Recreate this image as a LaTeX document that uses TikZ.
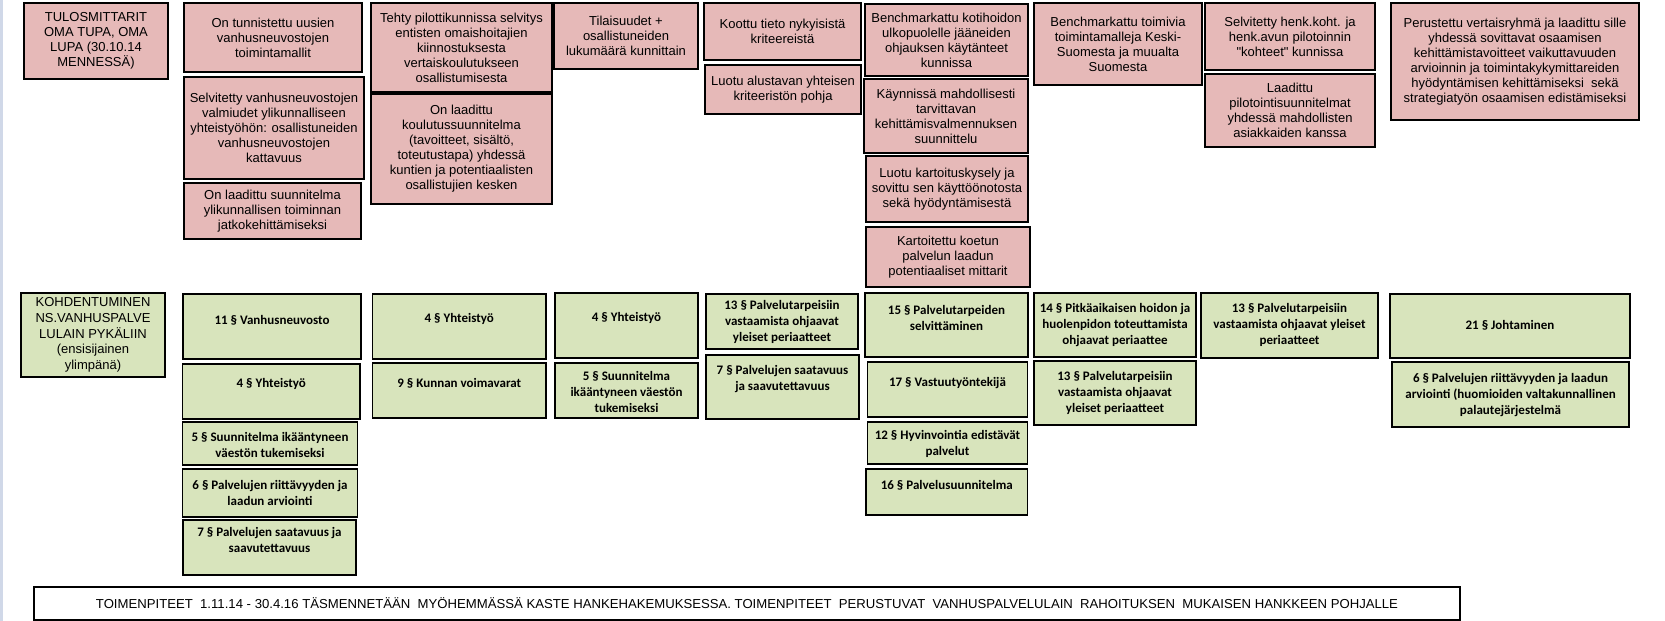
\documentclass[tikz,border=0pt]{standalone}
\usepackage{fontspec}
\setmainfont{Liberation Sans}[Ligatures=TeXOff]
\newfontfamily\calibri{Carlito}
\usepackage{graphicx}
\definecolor{boxpink}{RGB}{230,185,184}
\definecolor{boxgreen}{RGB}{216,228,188}
\definecolor{edgeblue}{RGB}{208,216,232}

\begin{document}
\begin{tikzpicture}[x=1pt,y=-1pt,
  pbox/.style={draw=black,line width=1.1pt,fill=boxpink,inner sep=0pt,outer sep=0pt,align=center,font=\fontsize{13}{15}\selectfont},
  gbox/.style={draw=black,line width=1.1pt,fill=boxgreen,inner sep=0pt,outer sep=0pt},
  gtext/.style={align=center,inner sep=0pt,font=\calibri\bfseries\fontsize{13}{16}\selectfont}]
  \useasboundingbox (0,0) rectangle (1665,621);
  \fill[edgeblue] (0,0) rectangle (2.5,621);
  \node[pbox,minimum width=144pt,minimum height=76pt] (tulos) at (96,41) {TULOSMITTARIT\\OMA TUPA, OMA\\LUPA (30.10.14\\MENNESSÄ)};
  \node[pbox,minimum width=178pt,minimum height=69pt] (tunn) at (273,37.5) {On tunnistettu uusien\\vanhusneuvostojen\\toimintamallit};
  \node[pbox,minimum width=180pt,minimum height=102pt] (selv) at (274,128) {Selvitetty vanhusneuvostojen\\valmiudet ylikunnalliseen\\yhteistyöhön: osallistuneiden\\vanhusneuvostojen\\kattavuus};
  \node[pbox,minimum width=177pt,minimum height=56pt] (suun) at (272.5,211) {On laadittu suunnitelma\\ylikunnallisen toiminnan\\jatkokehittämiseksi};
  \node[pbox,minimum width=181pt,minimum height=89pt] (tehty) at (461.5,47.5) {Tehty pilottikunnissa selvitys\\entisten omaishoitajien\\kiinnostuksesta\\vertaiskoulutukseen\\osallistumisesta};
  \node[pbox,minimum width=181pt,minimum height=110pt] (koul) at (461.5,149) {On laadittu\\koulutussuunnitelma\\(tavoitteet, sisältö,\\toteutustapa) yhdessä\\kuntien ja potentiaalisten\\osallistujien kesken};
  \node[pbox,minimum width=144pt,minimum height=66pt] (tilai) at (626,36) {Tilaisuudet +\\osallistuneiden\\lukumäärä kunnittain};
  \node[pbox,minimum width=157pt,minimum height=57pt] (koottu) at (782.5,31.5) {Koottu tieto nykyisistä\\kriteereistä};
  \node[pbox,minimum width=156pt,minimum height=49pt] (alust) at (783,89.5) {Luotu alustavan yhteisen\\kriteeristön pohja};
  \node[pbox,minimum width=163pt,minimum height=72pt] (bench) at (946.5,40) {Benchmarkattu kotihoidon\\ulkopuolelle jääneiden\\ohjauksen käytänteet\\kunnissa};
  \node[pbox,minimum width=164pt,minimum height=74pt] (kayn) at (946,116) {Käynnissä mahdollisesti\\tarvittavan\\kehittämisvalmennuksen\\suunnittelu};
  \node[pbox,minimum width=162pt,minimum height=66pt] (kysely) at (947,189) {Luotu kartoituskysely ja\\sovittu sen käyttöönotosta\\sekä hyödyntämisestä};
  \node[pbox,minimum width=164pt,minimum height=60pt] (mitta) at (948,257) {Kartoitettu koetun\\palvelun laadun\\potentiaaliset mittarit};
  \node[pbox,minimum width=168pt,minimum height=82pt] (toimi) at (1118,44) {Benchmarkattu toimivia\\toimintamalleja Keski-\\Suomesta ja muualta\\Suomesta};
  \node[pbox,minimum width=170pt,minimum height=67pt] (henk) at (1290,36.5) {Selvitetty henk.koht. ja\\henk.avun pilotoinnin\\"kohteet" kunnissa};
  \node[pbox,minimum width=170pt,minimum height=73pt] (pilot) at (1290,110.5) {Laadittu\\pilotointisuunnitelmat\\yhdessä mahdollisten\\asiakkaiden kanssa};
  \node[pbox,minimum width=248pt,minimum height=117pt] (vertais) at (1515,61.5) {Perustettu vertaisryhmä ja laadittu sille\\yhdessä sovittavat osaamisen\\kehittämistavoitteet vaikuttavuuden\\arvioinnin ja toimintakykymittareiden\\hyödyntämisen kehittämiseksi \ sekä\\strategiatyön osaamisen edistämiseksi};
  \node[pbox,fill=boxgreen,minimum width=144pt,minimum height=84pt,font=\fontsize{13}{15.7}\selectfont] (kohd) at (93,335) {KOHDENTUMINEN\\NS.VANHUSPALVE\\LULAIN PYKÄLIIN\\(ensisijainen\\ylimpänä)};
  \node[gbox,minimum width=178pt,minimum height=65pt] (g11) at (272,326.5) {};
  \node[gtext] (g11t) at (272,320) {11 § Vanhusneuvosto};
  \node[gbox,minimum width=177.5pt,minimum height=55pt] (g4a) at (271.25,391.5) {};
  \node[gtext] (g4at) at (271.25,384) {4 § Yhteistyö};
  \node[gbox,minimum width=175pt,minimum height=43pt] (g5a) at (270,443.5) {};
  \node[gtext] (g5at) at (270,444.5) {5 § Suunnitelma ikääntyneen\\väestön tukemiseksi};
  \node[gbox,minimum width=175pt,minimum height=48pt] (g6a) at (270,493) {};
  \node[gtext] (g6at) at (270,493) {6 § Palvelujen riittävyyden ja\\laadun arviointi};
  \node[gbox,minimum width=173pt,minimum height=55pt] (g7a) at (269.5,547.5) {};
  \node[gtext] (g7at) at (269.5,540) {7 § Palvelujen saatavuus ja\\saavutettavuus};
  \node[gbox,minimum width=173.5pt,minimum height=65pt] (g4b) at (459.25,326.5) {};
  \node[gtext] (g4bt) at (459.25,319) {4 § Yhteistyö};
  \node[gbox,minimum width=173.5pt,minimum height=55pt] (g9) at (459.25,390.5) {};
  \node[gtext] (g9t) at (459.25,383.5) {9 § Kunnan voimavarat};
  \node[gbox,minimum width=143pt,minimum height=65pt] (g4c) at (626.5,325.5) {};
  \node[gtext] (g4ct) at (626.5,318) {4 § Yhteistyö};
  \node[gbox,minimum width=143pt,minimum height=55pt] (g5c) at (626.5,390.5) {};
  \node[gtext] (g5ct) at (626.5,391.5) {5 § Suunnitelma\\ikääntyneen väestön\\tukemiseksi};
  \node[gbox,minimum width=152pt,minimum height=55pt] (g13a) at (782,321.5) {};
  \node[gtext] (g13at) at (782,321.5) {13 § Palvelutarpeisiin\\vastaamista ohjaavat\\yleiset periaatteet};
  \node[gbox,minimum width=153pt,minimum height=64pt] (g7d) at (782.5,387) {};
  \node[gtext] (g7dt) at (782.5,379.5) {7 § Palvelujen saatavuus\\ja saavutettavuus};
  \node[gbox,minimum width=163pt,minimum height=64pt] (g15) at (946.5,325) {};
  \node[gtext] (g15t) at (946.5,318) {15 § Palvelutarpeiden\\selvittäminen};
  \node[gbox,minimum width=160pt,minimum height=55pt] (g17) at (947.5,389.5) {};
  \node[gtext] (g17t) at (947.5,383) {17 § Vastuutyöntekijä};
  \node[gbox,minimum width=160pt,minimum height=42pt] (g12) at (947.5,443) {};
  \node[gtext] (g12t) at (947.5,443.5) {12 § Hyvinvointia edistävät\\palvelut};
  \node[gbox,minimum width=161.5pt,minimum height=46pt] (g16) at (946.75,492) {};
  \node[gtext] (g16t) at (946.75,485) {16 § Palvelusuunnitelma};
  \node[gbox,minimum width=162pt,minimum height=64pt] (g14) at (1115,325) {};
  \node[gtext] (g14t) at (1115,325) {14 § Pitkäaikaisen hoidon ja\\huolenpidon toteuttamista\\ohjaavat periaattee};
  \node[gbox,minimum width=162pt,minimum height=64pt] (g13b) at (1115,393) {};
  \node[gtext] (g13bt) at (1115,393) {13 § Palvelutarpeisiin\\vastaamista ohjaavat\\yleiset periaatteet};
  \node[gbox,minimum width=177pt,minimum height=65pt] (g13c) at (1289.5,325.5) {};
  \node[gtext] (g13ct) at (1289.5,325) {13 § Palvelutarpeisiin\\vastaamista ohjaavat yleiset\\periaatteet};
  \node[gbox,minimum width=240pt,minimum height=64pt] (g21) at (1510,326) {};
  \node[gtext] (g21t) at (1510,325.5) {21 § Johtaminen};
  \node[gbox,minimum width=237pt,minimum height=65pt] (g6b) at (1510.5,394.5) {};
  \node[gtext] (g6bt) at (1510.5,395) {6 § Palvelujen riittävyyden ja laadun\\arviointi (huomioiden valtakunnallinen\\palautejärjestelmä};
  \node[draw=black,line width=1.1pt,inner sep=0pt,outer sep=0pt,minimum width=1426pt,minimum height=33pt,font=\fontsize{13}{15}\selectfont] (toimet) at (747,603.5) {\resizebox{1302pt}{\height}{TOIMENPITEET \ 1.11.14 - 30.4.16 TÄSMENNETÄÄN \ MYÖHEMMÄSSÄ KASTE HANKEHAKEMUKSESSA. TOIMENPITEET \ PERUSTUVAT \ VANHUSPALVELULAIN \ RAHOITUKSEN \ MUKAISEN HANKKEEN POHJALLE}};
\end{tikzpicture}
\end{document}
